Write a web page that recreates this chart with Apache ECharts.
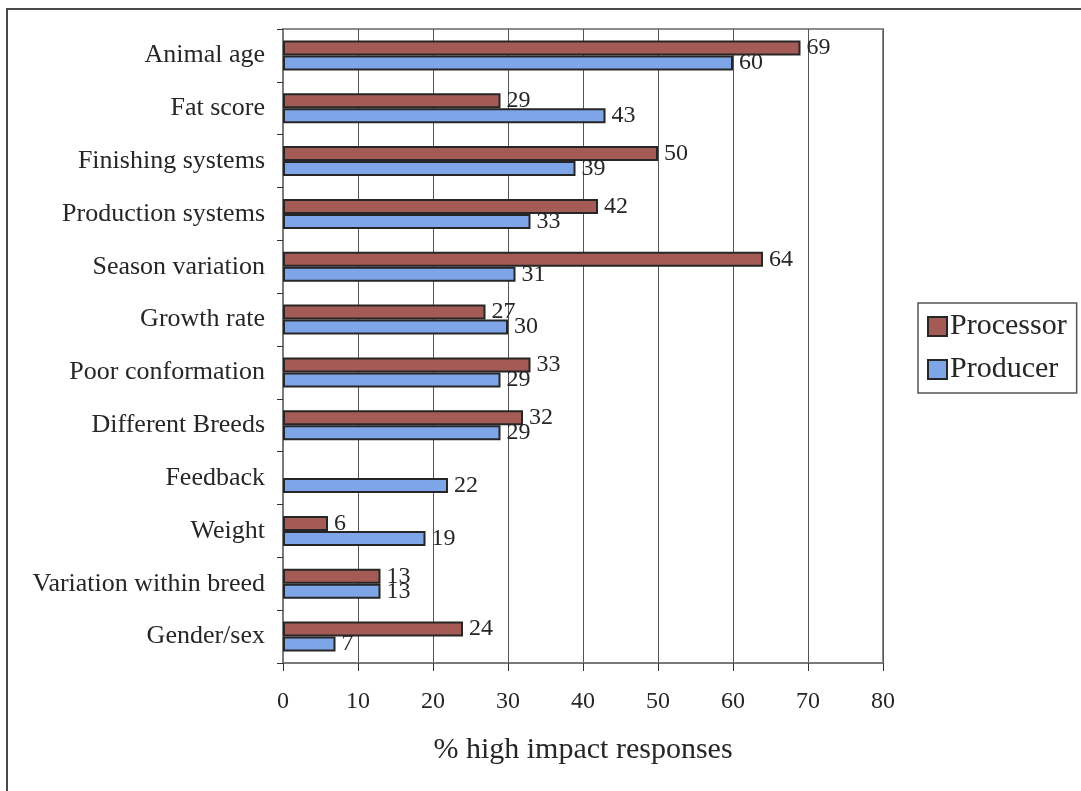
<!DOCTYPE html>
<html>
<head>
<meta charset="utf-8">
<title>High impact factors</title>
<script src="https://cdn.jsdelivr.net/npm/echarts@6/dist/echarts.min.js"></script>
<style>
  html, body { margin: 0; padding: 0; background: #ffffff; }
  #chart { width: 1081px; height: 791px; }
</style>
</head>
<body>
<div id="chart"></div>
<script>
// Factors rated as having a high impact, with the share of respondents in each group
const categories = [
  'Animal age', 'Fat score', 'Finishing systems', 'Production systems',
  'Season variation', 'Growth rate', 'Poor conformation', 'Different Breeds',
  'Feedback', 'Weight', 'Variation within breed', 'Gender/sex'
];
const processorValues = [69, 29, 50, 42, 64, 27, 33, 32, null, 6, 13, 24];
const producerValues = [60, 43, 39, 33, 31, 30, 29, 29, 22, 19, 13, 7];
const xTicks = [0, 10, 20, 30, 40, 50, 60, 70, 80];
const xTitle = '% high impact responses';

const serif = 'Liberation Serif, Times New Roman, serif';
const textColor = '#262626';

const chart = echarts.init(document.getElementById('chart'), null, { renderer: 'canvas' });

const valueLabel = {
  show: true,
  position: 'right',
  distance: 6,
  fontFamily: serif,
  fontSize: 24,
  color: textColor
};

chart.setOption({
  backgroundColor: '#ffffff',
  animation: false,
  graphic: [{
    type: 'rect',
    shape: { x: 7, y: 9, width: 1100, height: 820 },
    style: { fill: 'none', stroke: '#4a4a4a', lineWidth: 2 },
    silent: true
  }],
  legend: {
    orient: 'vertical',
    left: 918,
    top: 303,
    padding: [7, 10, 7, 9],
    itemWidth: 19,
    itemHeight: 19,
    itemGap: 10,
    borderColor: '#555555',
    borderWidth: 1.5,
    icon: 'rect',
    textStyle: { fontFamily: serif, fontSize: 30, color: textColor, lineHeight: 33, padding: [0, 0, 0, -2] },
    data: ['Processor', 'Producer']
  },
  grid: {
    left: 283, top: 29, width: 600, height: 634,
    show: true, borderColor: '#8c8c8c', borderWidth: 2,
    containLabel: false
  },
  xAxis: {
    type: 'value',
    min: 0, max: 80, interval: 10,
    name: xTitle,
    nameLocation: 'middle',
    nameGap: 72,
    nameTextStyle: { fontFamily: serif, fontSize: 30, color: textColor },
    axisLine: { show: true, lineStyle: { color: '#7a7a7a', width: 2 } },
    axisTick: { show: true, length: 8, lineStyle: { color: '#333333' } },
    axisLabel: {
      margin: 27, fontFamily: serif, fontSize: 24, color: textColor,
      formatter: v => xTicks.includes(v) ? String(v) : ''
    },
    splitLine: { show: true, lineStyle: { color: '#555555', width: 1 } }
  },
  yAxis: {
    type: 'category',
    data: categories,
    inverse: true,
    axisLine: { show: true, lineStyle: { color: '#7a7a7a', width: 2 } },
    axisTick: { show: true, length: 6, alignWithLabel: false, lineStyle: { color: '#333333' } },
    axisLabel: { margin: 18, fontFamily: serif, fontSize: 26, color: textColor },
    splitLine: { show: false }
  },
  series: [
    {
      name: 'Processor',
      type: 'bar',
      data: processorValues,
      barWidth: 15,
      barGap: '0%',
      itemStyle: { color: '#a45b56', borderColor: '#262626', borderWidth: 2 },
      label: valueLabel
    },
    {
      name: 'Producer',
      type: 'bar',
      data: producerValues,
      barWidth: 15,
      barGap: '0%',
      itemStyle: { color: '#7da5e8', borderColor: '#262626', borderWidth: 2 },
      label: valueLabel
    }
  ]
});
</script>
</body>
</html>
